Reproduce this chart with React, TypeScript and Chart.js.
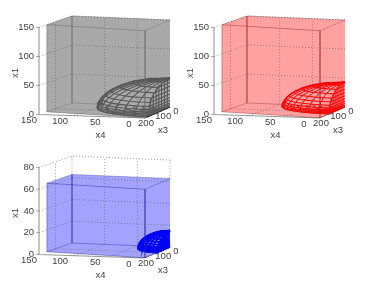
import React, { useEffect, useRef } from "react";
import { Chart, registerables } from "chart.js";

Chart.register(...registerables);

// ---- data ----
const x4Ticks = [150, 100, 50, 0];
const x3Ticks = [200, 100, 0];
const x1TicksWide = [150, 100, 50, 0];
const x1TicksNarrow = [80, 60, 40, 20, 0];
const x4Nudge = [-10, -14, -14, -15.5];

// surface mesh: ring levels (share of height), ring radius, and sweep around the corner
const ringHeights = [0, 0.04, 0.09, 0.15, 0.23, 0.33, 0.45, 0.58, 0.72, 0.85, 0.95, 1];
const ringRadii = [1, 0.999, 0.996, 0.989, 0.973, 0.944, 0.893, 0.815, 0.694, 0.527, 0.312, 0];
const sweepX4 = [1, 0.985, 0.94, 0.866, 0.766, 0.643, 0.5, 0.342, 0.174, 0];
const sweepX3 = [0, 0.174, 0.342, 0.5, 0.643, 0.766, 0.866, 0.94, 0.985, 1];
const capShares = [0.12, 0.25, 0.38, 0.5, 0.62, 0.75, 0.88, 1];

// semi-axes of each surface: x4, x3, x1
const meshBlack = [104, 175, 50];
const meshRed = [92, 125, 43];
const meshBlue = [44, 100, 15];

// transparent box: x1 top value of each panel
const boxTops = [150, 150, 63];
const x1Limits = [150, 150, 80];

const panelStyles = [
  { fill: "rgba(128,128,128,0.68)", mesh: "#000000", meshWidth: 1.1, edge: "rgba(50,50,50,0.55)", shift: [0, 0], ticks: x1TicksWide, semi: meshBlack },
  { fill: "rgba(255,0,0,0.37)", mesh: "#ff0000", meshWidth: 1, edge: "rgba(110,50,50,0.55)", shift: [175, 0], ticks: x1TicksWide, semi: meshRed },
  { fill: "rgba(0,0,255,0.36)", mesh: "#0000ff", meshWidth: 1.8, edge: "rgba(50,50,110,0.55)", shift: [0, 140], ticks: x1TicksNarrow, semi: meshBlue },
];

// frame of the 3D axes in the first panel
const FRONT_L = [39, 114.5];
const FRONT_R = [144.5, 118];
const BACK_L = [72, 103];
const BACK_R = [170, 107];
const HEIGHT = 87;

type Pt = { x: number; y: number };

function makeProject(panel: number) {
  const [dx, dy] = panelStyles[panel].shift;
  const limit = x1Limits[panel];
  return (x4: number, x3: number, x1: number): Pt => {
    const u = x4 / 150;
    const v = x3 / 200;
    const fx = FRONT_R[0] + (FRONT_L[0] - FRONT_R[0]) * u;
    const fy = FRONT_R[1] + (FRONT_L[1] - FRONT_R[1]) * u;
    const bx = BACK_R[0] + (BACK_L[0] - BACK_R[0]) * u;
    const by = BACK_R[1] + (BACK_L[1] - BACK_R[1]) * u;
    return {
      x: dx + bx + (fx - bx) * v,
      y: dy + by + (fy - by) * v - (x1 / limit) * HEIGHT,
    };
  };
}

function line(data: Pt[], color: string, width = 1, dash: number[] = []) {
  return {
    data,
    showLine: true,
    borderColor: color,
    borderWidth: width,
    borderDash: dash,
    pointRadius: 0,
    tension: 0,
    fill: false,
    backgroundColor: "transparent",
  };
}

function buildPanel(panel: number) {
  const p = makeProject(panel);
  const st = panelStyles[panel];
  const lim = x1Limits[panel];
  const top = boxTops[panel];
  const ds: any[] = [];
  const dotColor = "rgba(90,90,90,0.75)";
  const dots = [1, 2];

  // dotted walls and floor
  for (const t of st.ticks) {
    if (t === 0) continue;
    ds.push(line([p(150, 200, t), p(150, 0, t), p(0, 0, t)], dotColor, 0.8, dots));
  }
  ds.push(line([p(150, 100, 0), p(150, 100, lim)], dotColor, 0.8, dots));
  ds.push(line([p(150, 100, 0), p(0, 100, 0)], dotColor, 0.8, dots));
  for (const t of [100, 50]) {
    ds.push(line([p(t, 200, 0), p(t, 0, 0), p(t, 0, lim)], dotColor, 0.8, dots));
  }
  ds.push(line([p(150, 0, top), p(150, 0, lim)], dotColor, 0.8, dots));
  ds.push(line([p(0, 0, top), p(0, 0, lim)], dotColor, 0.8, dots));

  // box
  const fl = 152;
  const fr = 196;
  const outline = [
    p(150, fl, 0), p(0, fr, 0), p(0, 0, 0), p(0, 0, top),
    p(150, 0, top), p(150, fl, top), p(150, fl, 0),
  ];
  ds.push({ ...line(outline, "transparent", 0), fill: "shape", backgroundColor: st.fill });

  const e = st.edge;
  ds.push(line([p(150, fl, 0), p(150, fl, top), p(0, fr, top), p(0, fr, 0), p(150, fl, 0)], e, 0.8));
  ds.push(line([p(150, fl, top), p(150, 0, top), p(0, 0, top), p(0, fr, top)], e, 0.6));
  ds.push(line([p(150, 0, top), p(150, 0, 0), p(0, 0, 0)], e, 0.7));
  ds.push(line([p(150, 0, 0), p(150, fl, 0)], e, 0.6));
  ds.push(line([p(0, fr, 0), p(0, 0, 0)], e, 0.6));

  // wire mesh: dome
  const [a, b, c] = st.semi;
  const w = st.meshWidth;
  ringHeights.forEach((h, i) => {
    const r = ringRadii[i];
    ds.push(line(sweepX4.map((s, j) => p(a * r * s, b * r * sweepX3[j], c * h)), st.mesh, w));
  });
  sweepX4.forEach((s, j) => {
    ds.push(line(ringHeights.map((h, i) => p(a * ringRadii[i] * s, b * ringRadii[i] * sweepX3[j], c * h)), st.mesh, w));
  });
  // wire mesh: flat cut at x4 = 0
  ringHeights.forEach((h, i) => {
    ds.push(line([p(0, 0, c * h), p(0, b * ringRadii[i], c * h)], st.mesh, w));
  });
  capShares.forEach((share) => {
    const rim = ringRadii.findIndex((r) => r < share);
    const height = rim < 0 ? 1 : ringHeights[rim];
    ds.push(line([p(0, b * share, 0), p(0, b * share, c * height)], st.mesh, w));
  });
  // wire mesh: floor
  capShares.forEach((share) => {
    ds.push(line(sweepX4.map((s, j) => p(a * share * s, b * share * sweepX3[j], 0)), st.mesh, w));
  });

  // axis lines
  const ax = "rgba(145,145,145,0.95)";
  ds.push(line([p(150, 200, lim), p(150, 200, 0), p(0, 200, 0), p(0, 0, 0)], ax, 1.1));
  for (const t of st.ticks) {
    const q = p(150, 200, t);
    ds.push(line([q, { x: q.x - 3, y: q.y }], ax, 0.8));
  }
  return ds;
}

const datasets = [0, 1, 2].flatMap(buildPanel);

const labelsPlugin = {
  id: "axisLabels",
  afterDatasetsDraw(chart: any) {
    const { ctx, scales } = chart;
    const sx = (v: number) => scales.x.getPixelForValue(v);
    const sy = (v: number) => scales.y.getPixelForValue(v);
    ctx.save();
    ctx.fillStyle = "#404040";
    ctx.font = "9.5px 'Liberation Sans', Arial, sans-serif";
    ctx.textBaseline = "middle";
    [0, 1, 2].forEach((panel) => {
      const p = makeProject(panel);
      const st = panelStyles[panel];
      ctx.textAlign = "right";
      st.ticks.forEach((t) => {
        const q = p(150, 200, t);
        ctx.fillText(String(t), sx(q.x - 5), sy(q.y));
      });
      ctx.textAlign = "center";
      x4Ticks.forEach((t, i) => {
        const q = p(t, 200, 0);
        ctx.fillText(String(t), sx(q.x + x4Nudge[i]), sy(q.y + 6));
      });
      x3Ticks.forEach((t, i) => {
        const q = p(0, t, 0);
        ctx.fillText(String(t), sx(q.x + (i === 0 ? 1.5 : 6)), sy(q.y + (i === 0 ? 5 : 4.3)));
      });
      const [dx, dy] = st.shift;
      ctx.fillText("x4", sx(dx + 100.5), sy(dy + 135));
      ctx.fillText("x3", sx(dx + 163), sy(dy + 130));
      ctx.save();
      ctx.translate(sx(dx + 15), sy(dy + 73));
      ctx.rotate(-Math.PI / 2);
      ctx.fillText("x1", 0, 0);
      ctx.restore();
    });
    ctx.restore();
  },
};

export default function App() {
  const ref = useRef<HTMLCanvasElement | null>(null);
  useEffect(() => {
    if (!ref.current) return;
    const chart = new Chart(ref.current, {
      type: "scatter",
      data: { datasets },
      options: {
        animation: false,
        responsive: false,
        events: [],
        layout: { padding: 0 },
        plugins: { legend: { display: false }, tooltip: { enabled: false }, title: { display: false } },
        scales: {
          x: { type: "linear", min: 0, max: 366, display: false },
          y: { type: "linear", min: 0, max: 288, reverse: true, display: false },
        },
      },
      plugins: [labelsPlugin],
    } as any);
    return () => chart.destroy();
  }, []);
  return (
    <canvas
      ref={ref}
      width={366}
      height={288}
      style={{ position: "absolute", left: 0, top: 0, width: 366, height: 288, display: "block", background: "#fff" }}
    />
  );
}
